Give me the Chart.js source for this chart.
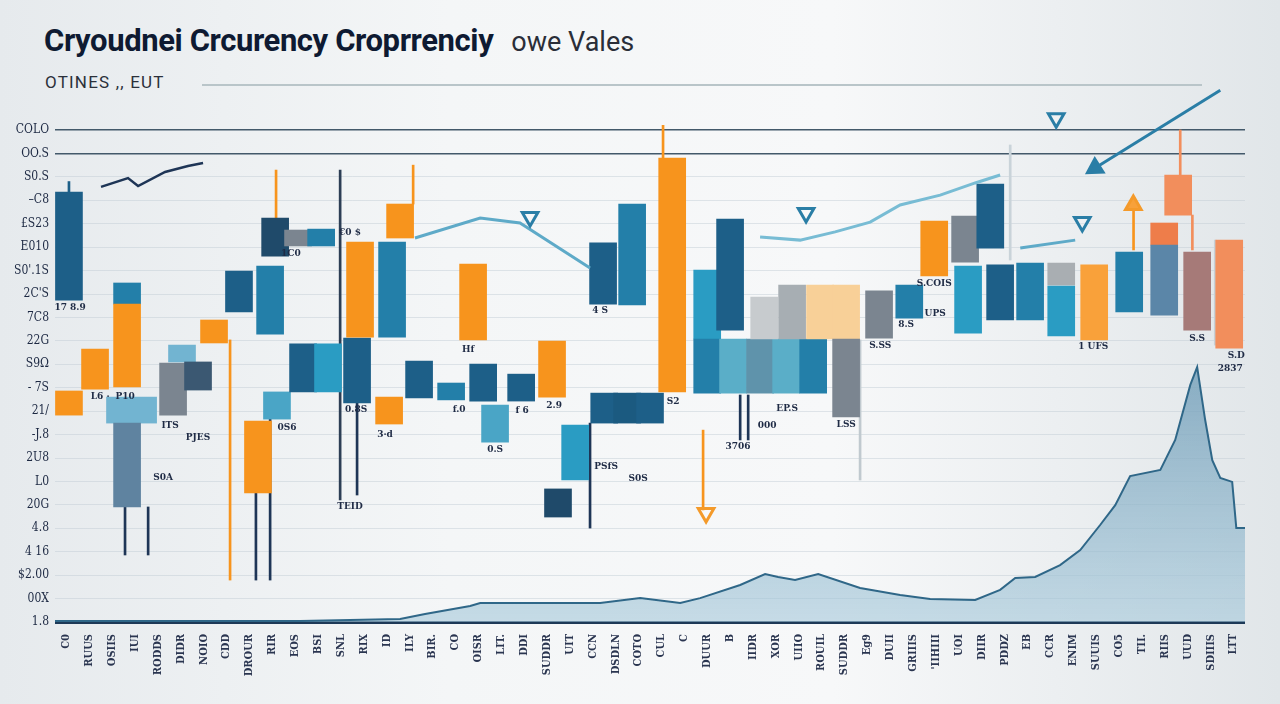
<!DOCTYPE html>
<html lang="fr">
<head>
<meta charset="UTF-8">
<title>Cryoudnei Crcurency Croprrenciy owe Vales</title>
<script src="https://cdn.jsdelivr.net/npm/chart.js@4.4.1/dist/chart.umd.min.js"></script>
<style>
  html, body { margin: 0; padding: 0; width: 1280px; height: 704px; overflow: hidden; }
  body {
    position: relative;
    font-family: Roboto, "Liberation Sans", sans-serif;
    background: linear-gradient(90deg, #e6eaed 0%, #f4f6f7 35%, #f7f8f9 65%, #e1e6e9 100%);
  }
  #title { position: absolute; left: 44px; top: 22px; white-space: nowrap; }
  #title b { font-weight: 700; font-size: 31px; letter-spacing: -0.4px; color: #0e1a32; }
  #title span { font-weight: 400; font-size: 27px; color: #2a2e38; margin-left: 18px; }
  #subtitle { position: absolute; left: 45px; top: 72px; font-size: 17px; color: #2b303a; letter-spacing: 1.2px; }
  #rule { position: absolute; left: 202px; top: 84px; width: 1000px; height: 2px; background: #b9c5c9; }
  #chart { position: absolute; left: 0; top: 0; }
</style>
</head>
<body>
<div id="title"><b>Cryoudnei Crcurency Croprrenciy</b><span>owe Vales</span></div>
<div id="subtitle">OTINES ,, EUT</div>
<div id="rule"></div>
<canvas id="chart" width="1280" height="704"></canvas>

<script>
// Étiquettes des axes
const Y_LABELS = [
  "COLO", "OO.S", "S0.S", "–C8", "£S23", "E010", "S0'.1S", "2C'S", "7C8", "22G", "S9Ω",
  "- 7S", "21/", "-J.8", "2U8", "L0", "20G", "4.8", "4 16", "$2.00", "00X", "1.8",
];
const X_LABELS = [
  "C0", "RUUS", "OSIIS", "IUI", "RODDS", "DIDR", "NOIO", "CDD", "DROUR", "RIR", "EOS",
  "BSI", "SNL", "RIX", "ID", "ILY", "BIR.", "CO", "OISR", "LIT.", "DDI", "SUDDR", "UIT",
  "CCN", "DSDLN", "COTO", "CUL", "C", "DUUR", "B", "IIDR", "XOR", "UIIO", "ROUIL", "SUDDR",
  "Eg9", "DUII", "GRIIIS", "'IIHIII", "UOI", "DIIR", "PDDZ", "EB", "CCR", "ENIM", "SUUIS",
  "CO5", "TII.", "RIIS", "UUD", "SDIIIS", "LTT",
];

// Corps des bougies (position, bas, haut)
const CANDLE_X = [
  0.11, 0.11, 1.25, 2.65, 2.65, 2.34, 3.35, 2.65, 4.66, 5.05, 5.75, 6.45, 7.54, 8.37, 8.9,
  9.2, 9.12, 10.12, 11.13, 10.34, 11.43, 12.7, 12.83, 14.1, 14.23, 14.58, 15.41, 16.81,
  17.77, 18.21, 18.73, 19.87, 21.22, 21.48, 22.23, 23.45, 23.5, 24.5, 25.5, 24.72, 26.47,
  28.0, 29.0, 28.0, 29.13, 30.31, 31.45, 32.63, 30.49, 31.71, 32.93, 34.07, 34.07, 35.51,
  36.83, 37.92, 39.27, 39.4, 40.37, 40.8, 42.11, 43.47, 43.47, 44.91, 46.44, 47.97, 47.97,
  48.58, 49.41, 50.81,
];
const CANDLE_LOW = [
  13.74, 8.83, 9.94, 13.57, 10.03, 8.49, 8.49, 4.91, 8.83, 11.1, 9.9, 11.91, 13.23, 5.51,
  12.29, 8.66, 15.62, 16.05, 16.05, 9.82, 9.82, 9.35, 12.16, 8.45, 12.16, 16.39, 9.56, 9.48,
  12.04, 9.43, 7.68, 9.43, 9.6, 4.48, 6.06, 13.57, 8.49, 8.49, 8.49, 13.53, 9.82,
  12.08, 12.46, 9.77, 9.77, 9.77, 9.77, 9.77, 12.08, 12.08, 12.08, 12.08, 8.75, 12.12,
  12.97, 14.77, 15.36, 12.33, 15.96, 12.89, 12.89, 14.38, 12.21, 12.04, 13.23, 16.09, 13.1,
  17.37, 12.46, 11.69,
];
const CANDLE_HIGH = [
  18.35, 9.86, 11.65, 14.47, 13.57, 9.6, 9.6, 8.49, 11.05, 11.82, 11.1, 12.89, 14.98, 8.58,
  15.19, 9.82, 17.24, 16.73, 16.77, 11.87, 11.87, 12.12, 16.22, 9.6, 16.22, 17.84, 11.14, 10.2,
  15.28, 11.01, 9.26, 10.58, 11.99, 5.68, 8.41, 16.18, 9.77, 9.77, 9.77, 17.84, 19.8,
  15.02, 17.2, 12.08, 12.08, 12.08, 12.08, 12.08, 13.87, 14.38, 14.38, 14.38, 12.08, 14.13,
  14.38, 17.11, 17.33, 15.19, 18.69, 15.24, 15.32, 15.32, 14.34, 15.24, 15.79, 17.03, 16.09,
  19.08, 15.79, 16.3,
];

// Mèches (position, bas, haut)
const WICK_X = [0.11, 7.15, 8.28, 8.9, 2.56, 3.57, 9.16, 11.96, 15.15, 26.07, 27.82, 29.44, 29.79, 48.67, 49.2, 22.88, 12.7, 41.24, 46.63, 50.2, 34.68];
const WICK_LOW = [18.35, 1.79, 1.79, 1.79, 2.86, 2.86, 17.24, 5.21, 17.84, 19.72, 4.78, 7.77, 7.77, 19.08, 15.88, 4.01, 5.42, 15.45, 15.88, 11.82, 6.06];
const WICK_HIGH = [18.8, 12.04, 5.51, 8.66, 4.91, 4.91, 19.29, 19.29, 19.5, 21.2, 8.19, 9.69, 9.69, 21.0, 17.37, 8.49, 9.35, 20.36, 17.8, 16.3, 12.04];

// Courbes de tendance
const ZIGZAG_X = [1.51, 2.69, 3.13, 4.31, 5.31, 5.97];
const ZIGZAG_Y = [18.57, 18.95, 18.61, 19.21, 19.46, 19.59];
const TREND_A_X = [15.23, 18.08, 19.82, 22.88];
const TREND_A_Y = [16.39, 17.24, 17.03, 15.11];
const TREND_B_X = [30.31, 32.06, 33.59, 35.12, 36.43, 38.18, 39.71, 40.8];
const TREND_B_Y = [16.43, 16.3, 16.65, 17.07, 17.8, 18.22, 18.74, 19.08];
const TREND_C_X = [41.68, 44.08];
const TREND_C_Y = [15.96, 16.3];
const ARROW_X = [50.42, 44.95];
const ARROW_Y = [22.7, 19.38];

// Marqueurs triangulaires
const MARK_DOWN_X = [20.26, 32.32, 43.25, 44.39];
const MARK_DOWN_Y = [17.29, 17.46, 21.5, 17.07];
const MARK_ORANGE_X = [46.62, 27.95];
const MARK_ORANGE_Y = [17.8, 4.65];

// Volume (aire en bas)
const VOLUME_X = [
  -0.5, 10.21, 14.58, 15.67, 17.64, 18.08, 23.32, 25.07, 26.82, 27.69, 29.44, 30.53, 31.1,
  31.84, 32.85, 34.68, 36.43, 37.74, 39.71, 40.8, 41.46, 42.33, 43.42, 44.3, 45.17, 45.83,
  46.48, 47.8, 48.45, 49.11, 49.41, 49.76, 50.07, 50.42, 50.94, 51.12, 51.5,
];
const VOLUME_Y = [
  0.04, 0.04, 0.13, 0.34, 0.68, 0.81, 0.81, 1.02, 0.81, 1.02, 1.58, 2.05, 1.92,
  1.79, 2.05, 1.45, 1.15, 0.98, 0.94, 1.37, 1.88, 1.92, 2.43, 3.07, 4.14, 4.99,
  6.23, 6.49, 7.77, 10.12, 10.88, 8.62, 6.91, 6.15, 5.98, 4.01, 4.01,
];

// Petites annotations
const NOTE_TEXT = [
  "17 8.9", "L6 ·", "P10", "ITS", "PJES", "S0A", "0S6", "1C0", "€0 $", "0.8S", "3·d", "TEID",
  "f.0", "Hf", "f 6", "2.9", "4 S", "PSfS", "S0S", "0.S", "S2", "000", "3706", "EP.S", "LSS",
  "S.SS", "8.S", "UPS", "S.COIS", "1 UFS", "S.S", "S.D", "2837",
];
const NOTE_X = [
  0.16, 1.47, 2.56, 4.53, 5.75, 4.22, 9.64, 9.81, 12.39, 12.66, 13.92, 12.39,
  17.16, 17.55, 19.91, 21.31, 23.32, 23.58, 24.98, 18.73, 26.51, 30.62, 29.35, 31.49, 34.07,
  35.56, 36.69, 37.96, 37.92, 44.87, 49.41, 51.12, 50.86,
];
const NOTE_Y = [
  13.44, 9.65, 9.65, 8.41, 7.9, 6.19, 8.32, 15.75, 16.65, 9.09, 8.02, 4.95,
  9.09, 11.65, 9.05, 9.26, 13.32, 6.62, 6.15, 7.38, 9.43, 8.41, 7.51, 9.13, 8.45,
  11.82, 12.72, 13.19, 14.47, 11.78, 12.12, 11.4, 10.84,
];

// Palette et teintes (styles séparés des données)
const PALETTE = {
  DT: "#1d5f88", OR: "#f7941d", TE: "#237fa9", LB: "#72b4d1", SB2: "#5f83a0", GR: "#7b8590",
  SL: "#3b5872", LT: "#4aa5c6", NV: "#1f4a6a", CY: "#2a9cc3", NV2: "#1b5a80", LT2: "#5aaec8",
  GB: "#5f93ab", LG: "#c7cbce", GR2: "#a7aeb3", LO: "#f8d098", LG2: "#a9aeb2", OR2: "#f9a13a",
  RO: "#ee7d4a", SB: "#5b86a8", SA: "#f28e5c", MV: "#a67a78",
};
const CANDLE_TONE = [
  "DT", "OR", "OR", "TE", "OR", "LB", "LB", "SB2", "GR", "LB", "SL", "OR", "DT", "OR", "TE",
  "LT", "NV", "GR", "TE", "DT", "CY", "DT", "OR", "OR", "TE", "OR", "DT", "TE",
  "OR", "DT", "LT", "DT", "OR", "NV", "CY", "DT", "DT", "NV2", "DT", "TE", "OR",
  "CY", "DT", "TE", "LT2", "GB", "LT2", "TE", "LG", "GR2", "LO", "LO", "GR", "GR",
  "TE", "OR", "GR", "CY", "DT", "DT", "TE", "LG2", "CY", "OR2", "TE", "RO", "SB",
  "SA", "MV", "SA",
];
const WICK_TONE = [
  "#1d5f88", "#f7941d", "#1e3556", "#1e3556", "#1e3556", "#1e3556", "#f7941d", "#2c3e55",
  "#f7941d", "#f7941d", "#f7941d", "#1e3556", "#1e3556", "#f28e5c", "#f28e5c", "#1e3556",
  "#1e3556", "#c9d3d9", "#f7941d", "#c7d0d6", "#c0c9cf",
];

function toPoints(xs, ys) {
  return xs.map((x, i) => ({ x: x, y: ys[i] }));
}

function toRanges(xs, lows, highs) {
  return xs.map((x, i) => ({ x: x, y: [lows[i], highs[i]] }));
}

// Dégradé de l'aire de volume
function volumeGradient(context) {
  const { ctx, chartArea } = context.chart;
  if (!chartArea) return "rgba(150,190,210,0.5)";
  const g = ctx.createLinearGradient(0, chartArea.bottom - 260, 0, chartArea.bottom);
  g.addColorStop(0, "rgba(110,155,182,0.8)");
  g.addColorStop(1, "rgba(165,200,218,0.6)");
  return g;
}

// Plugin pour les annotations texte
const notesPlugin = {
  id: "notes",
  afterDatasetsDraw(chart) {
    const { ctx, scales } = chart;
    ctx.save();
    ctx.font = "bold 10px 'DejaVu Serif Condensed', 'DejaVu Serif'";
    ctx.fillStyle = "#1f2b45";
    ctx.textAlign = "center";
    ctx.textBaseline = "middle";
    NOTE_TEXT.forEach((t, i) => {
      ctx.fillText(t, scales.x.getPixelForValue(NOTE_X[i]), scales.y.getPixelForValue(NOTE_Y[i]));
    });
    ctx.restore();
  },
};

const lineBase = {
  type: "line",
  pointRadius: 0,
  tension: 0,
  fill: false,
  clip: false,
};

new Chart(document.getElementById("chart"), {
  type: "bar",
  data: {
    datasets: [
      {
        ...lineBase,
        label: "Volume",
        data: toPoints(VOLUME_X, VOLUME_Y),
        borderColor: "#2f6788",
        borderWidth: 2,
        backgroundColor: volumeGradient,
        fill: "origin",
        order: 10,
      },
      {
        label: "Mèches",
        data: toRanges(WICK_X, WICK_LOW, WICK_HIGH),
        backgroundColor: WICK_TONE,
        barThickness: 2,
        grouped: false,
        clip: false,
        order: 9,
      },
      {
        label: "Bougies",
        data: toRanges(CANDLE_X, CANDLE_LOW, CANDLE_HIGH),
        backgroundColor: CANDLE_TONE.map((k) => PALETTE[k]),
        barThickness: 27,
        grouped: false,
        order: 8,
      },
      {
        ...lineBase,
        label: "Zigzag",
        data: toPoints(ZIGZAG_X, ZIGZAG_Y),
        borderColor: "#1e3556",
        borderWidth: 2.5,
        order: 5,
      },
      {
        ...lineBase,
        label: "Tendance A",
        data: toPoints(TREND_A_X, TREND_A_Y),
        borderColor: "#5eaac8",
        borderWidth: 3,
        order: 5,
      },
      {
        ...lineBase,
        label: "Tendance B",
        data: toPoints(TREND_B_X, TREND_B_Y),
        borderColor: "#78bcd4",
        borderWidth: 3,
        order: 5,
      },
      {
        ...lineBase,
        label: "Tendance C",
        data: toPoints(TREND_C_X, TREND_C_Y),
        borderColor: "#5eaac8",
        borderWidth: 3,
        order: 5,
      },
      {
        ...lineBase,
        label: "Flèche",
        data: toPoints(ARROW_X, ARROW_Y),
        borderColor: "#2a7ea6",
        borderWidth: 3,
        pointRadius: [0, 9],
        pointStyle: "triangle",
        pointRotation: 238,
        pointBackgroundColor: "#2a7ea6",
        pointBorderColor: "#2a7ea6",
        order: 4,
      },
      {
        ...lineBase,
        label: "Repères",
        data: toPoints(MARK_DOWN_X, MARK_DOWN_Y),
        showLine: false,
        pointRadius: 9,
        pointStyle: "triangle",
        pointRotation: 180,
        pointBackgroundColor: "rgba(255,255,255,0.2)",
        pointBorderColor: "#2a7ea6",
        pointBorderWidth: 3,
        order: 3,
      },
      {
        ...lineBase,
        label: "Repères orange",
        data: toPoints(MARK_ORANGE_X, MARK_ORANGE_Y),
        showLine: false,
        pointRadius: 9,
        pointStyle: "triangle",
        pointRotation: [0, 180],
        pointBackgroundColor: ["#f7a13a", "rgba(255,255,255,0.2)"],
        pointBorderColor: "#f49a2a",
        pointBorderWidth: 3,
        order: 3,
      },
    ],
  },
  options: {
    responsive: false,
    animation: false,
    layout: { padding: { top: 130, right: 35, left: 0, bottom: 0 } },
    plugins: {
      legend: { display: false },
      tooltip: { enabled: false },
    },
    scales: {
      x: {
        type: "linear",
        offset: false,
        min: -0.5,
        max: 51.5,
        grid: { display: false },
        border: { display: false },
        // Une graduation par catégorie
        afterBuildTicks(scale) {
          scale.ticks = X_LABELS.map((_, i) => ({ value: i }));
        },
        afterFit(scale) {
          scale.height = 82;
          scale.paddingLeft = 0;
          scale.paddingRight = 0;
        },
        ticks: {
          autoSkip: false,
          minRotation: 90,
          maxRotation: 90,
          padding: 4,
          color: "#2a3550",
          font: { family: "'DejaVu Serif Condensed', 'DejaVu Serif'", size: 11, weight: "bold" },
          callback: (value) => X_LABELS[Math.round(value)] || "",
        },
      },
      y: {
        min: 0,
        max: 21,
        border: { display: false },
        afterFit(scale) {
          scale.width = 55;
        },
        grid: {
          drawTicks: false,
          color: (c) => {
            const v = c.tick.value;
            if (v === 0) return "#1d3957";
            if (v === 20 || v === 21) return "#43596a";
            return "rgba(190,202,210,0.45)";
          },
          lineWidth: (c) => {
            const v = c.tick.value;
            if (v === 0) return 3;
            if (v === 20 || v === 21) return 1.5;
            return 1;
          },
        },
        ticks: {
          stepSize: 1,
          autoSkip: false,
          padding: 6,
          color: "#1c2842",
          font: { family: "'DejaVu Serif Condensed', 'DejaVu Serif'", size: 12 },
          callback: (value) => Y_LABELS[21 - value],
        },
      },
    },
  },
  plugins: [notesPlugin],
});
</script>
</body>
</html>
